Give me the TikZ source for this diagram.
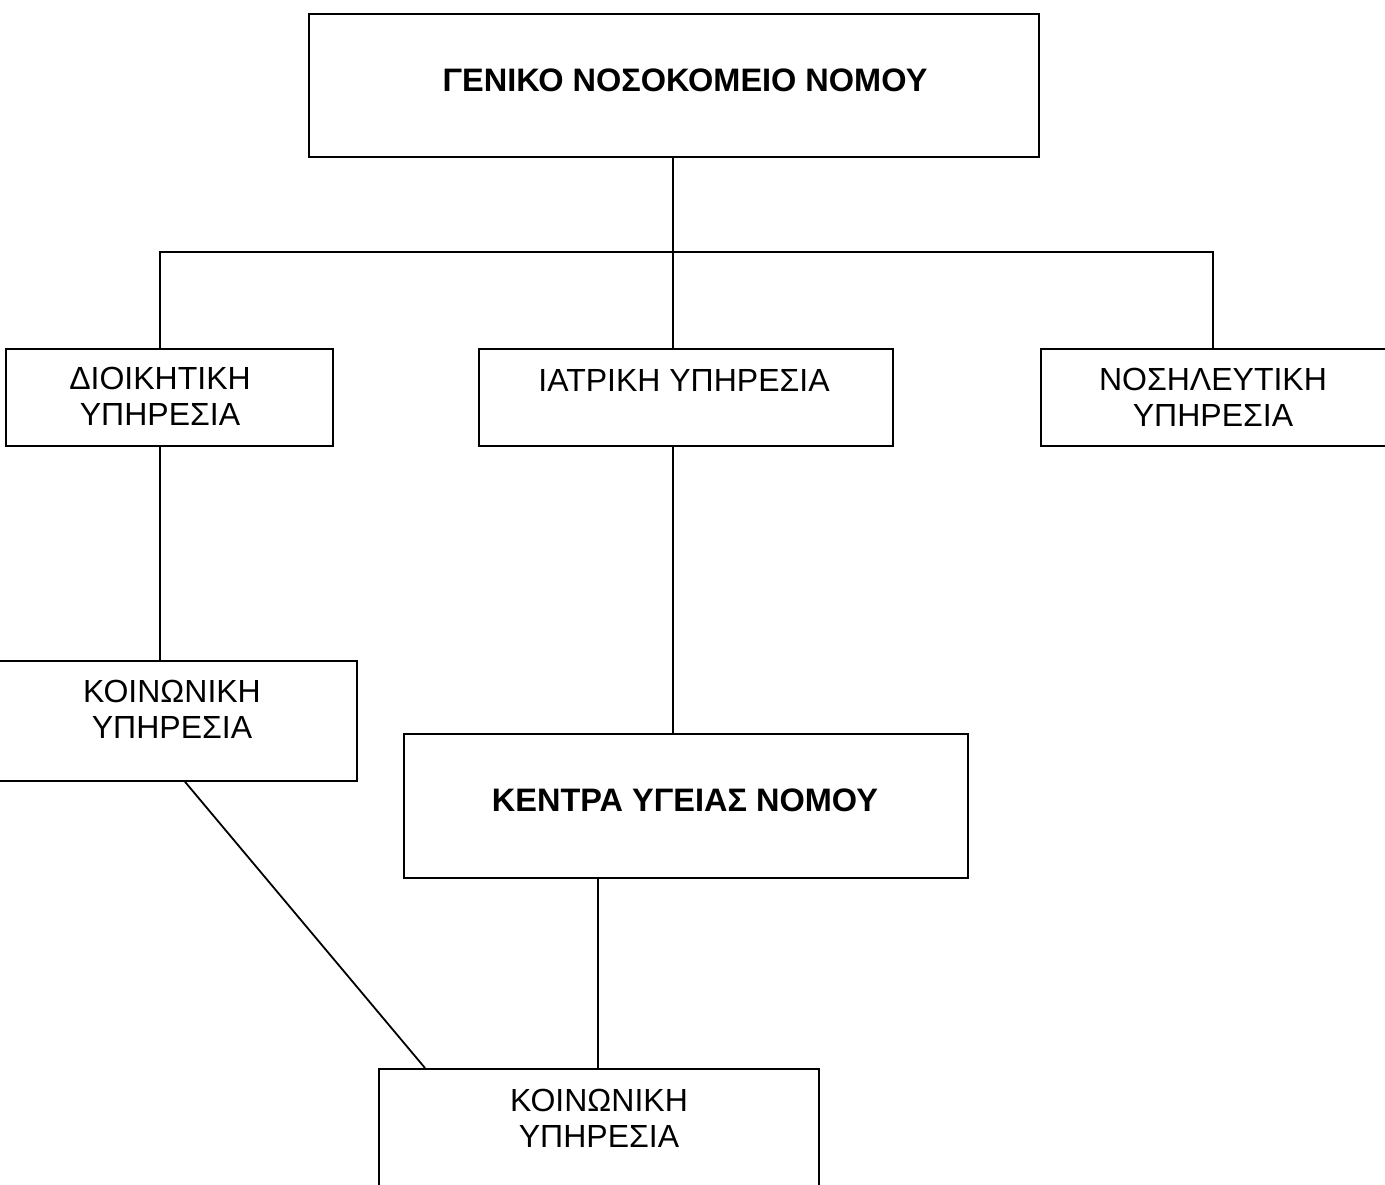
\documentclass[tikz,border=0pt]{standalone}
\usepackage{fontspec}
\setmainfont{Liberation Sans}
\begin{document}
\begin{tikzpicture}[x=1pt,y=-1pt,
  box/.style={draw=black, line width=1.8pt, rectangle, inner sep=0pt},
  txt/.style={font=\fontsize{32}{36}\selectfont, align=center, inner sep=0pt},
  btxt/.style={font=\fontsize{32.5}{36}\selectfont\bfseries, align=center, inner sep=0pt},
  conn/.style={draw=black, line width=1.8pt}]
\useasboundingbox (0,0) rectangle (1385,1185);
\clip (0,0) rectangle (1385,1185);
\fill[white] (0,0) rectangle (1385,1185);
% boxes
\node[box, minimum width=730pt, minimum height=143pt, anchor=north west] (top) at (308,13) {};
\node[box, minimum width=327pt, minimum height=97pt, anchor=north west] (adm) at (5,348) {};
\node[box, minimum width=414pt, minimum height=97pt, anchor=north west] (med) at (478,348) {};
\node[box, minimum width=360pt, minimum height=97pt, anchor=north west] (nur) at (1040,348) {};
\node[box, minimum width=366pt, minimum height=120pt, anchor=north west] (soc1) at (-10,660) {};
\node[box, minimum width=564pt, minimum height=144pt, anchor=north west] (kyn) at (403,733) {};
\node[box, minimum width=440pt, minimum height=150pt, anchor=north west] (soc2) at (378,1068) {};
% texts
\node[btxt] (ttop) at (685,80) {ΓΕΝΙΚΟ ΝΟΣΟΚΟΜΕΙΟ ΝΟΜΟΥ};
\node[txt] (tadm) at (160,396) {ΔΙΟΙΚΗΤΙΚΗ\\ΥΠΗΡΕΣΙΑ};
\node[txt] (tmed) at (684,380) {ΙΑΤΡΙΚΗ ΥΠΗΡΕΣΙΑ};
\node[txt] (tnur) at (1213,397) {ΝΟΣΗΛΕΥΤΙΚΗ\\ΥΠΗΡΕΣΙΑ};
\node[txt] (tsoc1) at (172,709) {ΚΟΙΝΩΝΙΚΗ\\ΥΠΗΡΕΣΙΑ};
\node[btxt] (tkyn) at (685,800) {ΚΕΝΤΡΑ ΥΓΕΙΑΣ ΝΟΜΟΥ};
\node[txt] (tsoc2) at (599,1118) {ΚΟΙΝΩΝΙΚΗ\\ΥΠΗΡΕΣΙΑ};
% connector coordinates
\coordinate (bus) at (673,252);
\coordinate (xa) at (160,0);
\coordinate (xn) at (1213,0);
\coordinate (xm) at (673,0);
\coordinate (xk) at (598,0);
\coordinate (ds) at (185,780);
\coordinate (de) at (425,1068);
% connectors
\draw[conn] (top.south -| bus) -- (bus);
\draw[conn] (xa |- adm.north) -- (xa |- bus) -- (xn |- bus) -- (xn |- nur.north);
\draw[conn] (bus) -- (xm |- med.north);
\draw[conn] (xa |- adm.south) -- (xa |- soc1.north);
\draw[conn] (xm |- med.south) -- (xm |- kyn.north);
\draw[conn] (xk |- kyn.south) -- (xk |- soc2.north);
\draw[conn] (ds |- soc1.south) -- (de |- soc2.north);
\end{tikzpicture}
\end{document}
